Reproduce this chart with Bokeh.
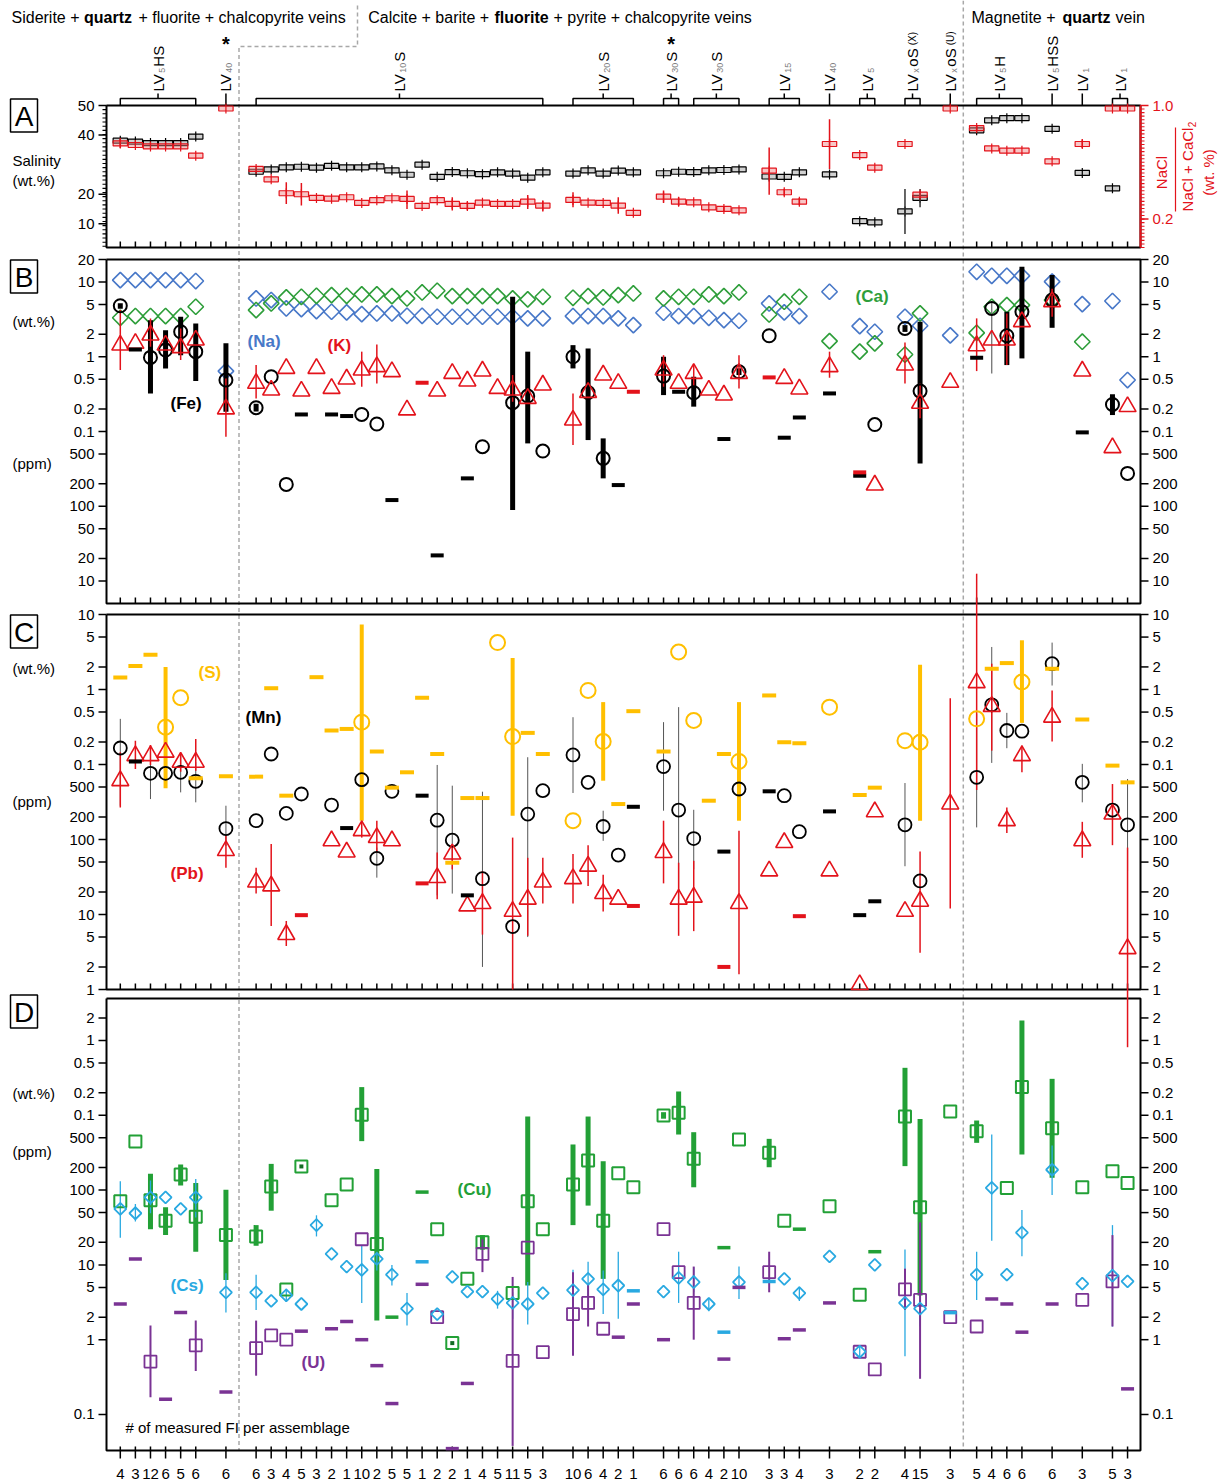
import math
from bokeh.plotting import figure
from bokeh.models import Range1d, LogScale
from bokeh.embed import file_html
from bokeh.resources import INLINE
from bokeh.core.properties import value

W, H = 1222, 1484
FONT = "Liberation Sans"

# ====================== DATA ======================
# assemblage slot codes (0..55: siderite & calcite veins; 100+k: magnetite vein)
codes = [0, 1, 2, 3, 4, 5, 7,
         9, 10, 11, 12, 13, 14, 15, 16, 17, 18, 19, 20, 21, 22, 23, 24, 25, 26, 27, 28,
         30, 31, 32, 33, 34,
         36, 37, 38, 39, 40, 41,
         43, 44, 45, 47, 49, 50, 52, 53, 55,
         100, 101, 102, 103, 105, 107, 109, 110]
fi_counts = [4, 3, 12, 6, 5, 6, 6,
             6, 3, 4, 5, 3, 2, 1, 10, 2, 5, 5, 1, 2, 2, 1, 4, 5, 11, 5, 3,
             10, 6, 4, 2, 1,
             6, 6, 6, 4, 2, 10,
             3, 3, 4, 3, 2, 2, 4, 15, 3,
             5, 4, 6, 6, 6, 3, 5, 3]

# assemblage groups: (subscript, suffix, first code, last code, mark)
groups = [("5", "HS", 0, 5, ""), ("40", "", 7, 7, "*"), ("10", "S", 9, 28, ""),
          ("20", "S", 30, 34, ""), ("30", "S", 36, 37, "*"), ("30", "S", 38, 41, ""),
          ("15", "", 43, 45, ""), ("40", "", 47, 47, ""), ("5", "", 49, 50, ""),
          ("x", "oS", 52, 53, "(X)"), ("x", "oS", 55, 55, "(U)"),
          ("5", "H", 100, 103, ""), ("5", "HSS", 105, 105, ""),
          ("1", "", 107, 107, ""), ("1", "", 109, 110, "")]

# ---- Panel A: salinity (wt.%) and NaCl/(NaCl+CaCl2)
salinity = [38.1, 37.8, 37.3, 37.3, 37.3, 39.5, None,
            27.6, 28.4, 29.1, 29.3, 29.0, 29.6, 29.1, 29.1, 29.4, 28.1, 26.6, 30.0, 25.9, 27.5, 27.1, 26.8, 27.4, 27.0, 25.6, 27.4,
            27.0, 28.1, 27.0, 28.0, 27.4,
            27.1, 27.6, 27.5, 28.1, 28.2, 28.4,
            26.0, 25.9, 27.4, 26.7, 10.9, 10.5, 14.2, 18.8, None,
            41.6, 45.0, 45.7, 45.7, 42.1, 27.2, 22.0, None]
salinity_err = {52: (6.6, 21.8), 53: (15.6, 21.8)}
nacl_ratio = [0.733, 0.722, 0.712, 0.712, 0.712, 0.647, 0.979,
              0.553, 0.480, 0.382, 0.375, 0.349, 0.344, 0.354, 0.314, 0.333, 0.347, 0.342, 0.293, 0.333, 0.307, 0.293, 0.316, 0.307, 0.307, 0.323, 0.295,
              0.335, 0.316, 0.314, 0.295, 0.244,
              0.358, 0.323, 0.318, 0.283, 0.272, 0.262,
              0.541, 0.389, 0.323, 0.729, 0.651, 0.562, 0.729, 0.372, 0.979,
              0.841, 0.698, 0.682, 0.682, 0.607, 0.729, 0.979, 0.979]
nacl_ratio_err = {0: (0.70, 0.77), 11: (0.307, 0.459), 12: (0.295, 0.455), 19: (0.272, 0.401),
                  22: (0.260, 0.353), 23: (0.263, 0.323), 27: (0.272, 0.370), 28: (0.253, 0.330),
                  30: (0.283, 0.389), 33: (0.237, 0.353), 36: (0.314, 0.401), 37: (0.293, 0.353),
                  40: (0.252, 0.292), 43: (0.372, 0.705), 44: (0.364, 0.414), 45: (0.298, 0.348),
                  47: (0.553, 0.904), 100: (0.82, 0.86), 107: (0.70, 0.76)}

# ---- Panel B (ppm): Na, Ca, K, Fe
na = [106000, 106000, 106000, 106000, 106000, 103000, 6430,
      60300, 57300, 44300, 43400, 40800, 40000, 39200, 37200, 38000, 38000, 35300, 35300, 34300, 34300, 34300, 34300, 34300, 34300, 32600, 32600,
      35000, 35000, 35000, 32600, 26500,
      38800, 35000, 35000, 33200, 30900, 30300,
      51700, 39200, 35000, 74000, 25700, 21600, 34300, 26000, 19300,
      137000, 121000, 121000, 121000, 101000, 50600, 55600, 4880]
ca = [33200, 35000, 35000, 35000, 35000, 46700, None,
      42100, 51700, 62200, 63400, 65400, 66800, 65400, 68200, 68200, 64700, 60300, 72500, 76300, 64700, 64700, 64700, 64700, 60300, 58500, 63400,
      61500, 64700, 62200, 66800, 70300,
      60300, 63400, 63400, 68200, 64700, 72500,
      36800, 54500, 63400, 16200, 11700, 15100, 10700, 38000, None,
      20900, 46700, 49100, 49100, 57300, 15900, None, None]
k_ppm = [14300, 15100, 19500, 14300, 13200, 16700, 2000,
         4400, 3580, 6980, 3470, 6980, 3770, 5030, 6630, 7350, 6300, 1940, None, 3470, 5980, 4730, 6430, 3770, 3580, 2770, 4180,
         1420, 3330, 5690, 4400, None,
         6630, 4400, 5980, 3580, 3070, 5980,
         None, 5130, 3700, 7350, None, 192, 7740, 2380, 4540,
         14000, 16700, 16700, 29400, 54500, 6430, 607, 2150]
k_err = {0: (6630, 42100), 2: (13600, 32600), 4: (9040, 23900), 7: (851, 5130), 9: (2770, 7740),
         16: (3970, 11700), 17: (4400, 14600), 26: (2500, 5690), 30: (659, 3230), 36: (3970, 10500),
         38: (3970, 7740), 41: (3770, 10500), 47: (5240, 11700), 52: (4400, 15500), 53: (1500, 4400),
         100: (6430, 32600), 102: (7740, 38000), 105: (34300, 81300)}
k_dash = {20: 4490, 34: 3400, 43: 5290, 49: 284}
fe = [48100, None, 9800, 12300, 21600, 11700, 4880,
      2080, 5400, 196, None, None, None, None, 1690, 1260, None, None, None, None, None, None, 626, None, 2430, 2980, 548,
      10000, 3330, 437, None, None,
      5510, None, 3300, None, None, 6300,
      19100, None, None, None, None, 1240, 23900, 3470, None,
      None, 44300, 19100, 40000, 57300, None, 2300, 275]
fe_err = {0: (44000, 52000), 2: (3230, 30900), 3: (6980, 22700), 4: (10500, 34300), 5: (4730, 27900),
          7: (1840, 15100), 9: (1850, 2350), 26: (89, 63400), 27: (693, 11700), 30: (6980, 14300),
          31: (768, 12900), 32: (236, 809), 36: (3070, 10000), 38: (2150, 5400), 41: (5700, 7000),
          52: (21500, 26500), 53: (374, 29400), 102: (7740, 40000), 103: (9500, 160000),
          105: (24400, 124000), 109: (1660, 3150)}
fe_err_thin = {101: (5980, 54500)}
fe_dash = {1: 12500, 12: 1690, 14: 1690, 15: 1610, 18: 121, 21: 22, 23: 236, 33: 192, 37: 3400,
           40: 793, 44: 826, 45: 1540, 47: 3230, 49: 256, 100: 9700, 107: 973}

# ---- Panel C (ppm): S, Mn, Pb
s_ppm = [None, None, None, 3140, 7760, None, None,
         None, None, None, None, None, None, None, 3670, None, None, None, None, None, None, None, None, 42200, 2360, None, None,
         178, 9720, 2020, None, None,
         None, 31600, 3860, None, None, 1100,
         None, None, None, 5820, None, None, 2080, 1980, None,
         4060, None, None, 12600, None, None, None, None]
s_err = {3: (481, 19900), 16: (178, 73400), 26: (207, 26300), 32: (608, 6790), 41: (178, 6790),
         53: (178, 21400), 103: (3590, 45300)}
s_dash = {0: 14400, 1: 20600, 2: 29100, 5: 655, 7: 695, 9: 689, 10: 10400, 11: 384, 13: 14600,
          14: 2840, 15: 2980, 17: 1490, 18: 491, 19: 787, 20: 7760, 21: 1380, 22: 49, 23: 357,
          24: 357, 27: 2640, 28: 1380, 33: 297, 34: 5140, 36: 1490, 39: 329, 40: 1380, 43: 8330,
          44: 1980, 45: 1920, 49: 392, 50: 491, 101: 18900, 102: 22500, 105: 18900, 107: 3980,
          109: 966, 110: 578}
mn = [1660, None, 762, 762, 787, 597, 140,
      178, 1380, 223, 404, None, 288, None, 628, 56, 439, None, None, 181, 98, None, 30, None, 6.9, 218, 448,
      1340, 578, 149, 62, None,
      937, 247, 103, None, None, 471,
      None, 384, 127, None, None, None, 157, 28, None,
      675, 6250, 2840, 2780, 22100, 578, 247, 157]
mn_err = {0: (282, 4060), 2: (346, 1790), 4: (425, 1380), 5: (313, 1070), 7: (82, 282), 17: (31, 78),
          21: (18, 986), 22: (19, 522), 24: (2.0, 434), 27: (5.0, 1250), 30: (417, 4270), 32: (96, 242),
          36: (242, 3670), 37: (16, 5820), 38: (40, 249), 52: (44, 566), 100: (145, 4740),
          101: (1050, 36900), 102: (1650, 4880), 105: (11300, 42200), 107: (313, 1020), 110: (38, 641)}
mn_dash = {1: 1100, 15: 142, 20: 384, 23: 18, 34: 273, 40: 69, 43: 439, 47: 237, 49: 9.8, 50: 15}
pb = [608, 1310, 1310, 1460, 1070, 1070, 71,
      27, 24, 5.4, None, None, 96, 68, 131, 106, 96, None, None, 31, 64, 13, 14, None, 11, 16, 27,
      30, 44, 19, 16, None,
      67, 16, 17, None, None, 14,
      38, 91, None, 38, 1.16, 234, 11, 15, 297,
      12300, 5940, 178, 1310, 4270, 96, 218, 3.5]
pb_err = {0: (268, 1460), 1: (872, 2080), 2: (986, 1820), 4: (803, 1380), 5: (828, 2190), 7: (42, 112),
          9: (19, 42), 10: (7.0, 87), 11: (3.8, 8.2), 16: (106, 178), 17: (67, 178), 21: (16, 67),
          22: (40, 82), 24: (5.4, 38), 26: (0.5, 106), 27: (5.2, 57), 28: (14, 57), 30: (14, 64),
          31: (24, 84), 32: (11, 34), 36: (26, 178), 37: (5.2, 49), 38: (6.0, 52), 41: (1.6, 131),
          53: (3.1, 69), 55: (12, 7670), 100: (457, 3.5e5), 101: (1530, 22100), 102: (122, 268),
          103: (787, 1790), 105: (2020, 9720), 107: (57, 172), 109: (84, 549), 110: (0.17, 78)}
pb_err_overrun = (100, 110)   # error bars drawn past the panel edge in the original
pb_dash = {12: 9.8, 20: 26, 34: 13, 40: 2.0, 45: 9.5}

# ---- Panel D (ppm): Cu, Cs, U
cu = [71, 446, 73, 39, 161, 44, 25,
      24, 112, 4.7, 207, None, 73, 119, 1020, 19, None, None, None, 30, 0.90, 6.5, 20, None, 4.2, 71, 30,
      119, 248, 39, 168, 109,
      993, 1080, 262, None, None, 474,
      315, 39, None, 61, 4.0, None, 962, 59, 1120,
      613, None, 107, 2380, 672, 109, 179, 124]
cu_solid_center = (12, 22)
cu_err = {2: (30, 165), 3: (25, 59), 4: (115, 220), 5: (15, 124), 7: (6.3, 101), 9: (18, 34),
          10: (53, 224), 16: (451, 2380), 17: (1.8, 192), 24: (16, 25), 27: (5.3, 962), 30: (34, 407),
          31: (62, 962), 32: (6.5, 243), 36: (900, 1100), 37: (553, 2080), 38: (109, 594),
          43: (202, 484), 52: (209, 4310), 53: (3.9, 895), 100: (428, 851), 103: (299, 18500),
          105: (146, 3070)}
cu_dash = {18: 2.0, 20: 94, 40: 17, 45: 30, 50: 15}
cs = [56, 49, 80, 80, 56, 80, 4.3,
      4.3, 3.3, 3.9, 3.0, 34, 14, 9.5, 8.6, 12, 7.4, 2.6, None, 2.2, 6.9, 4.4, 4.4, 3.5, 3.1, 3.0, 4.2,
      4.6, 6.5, 4.7, 5.3, None,
      4.4, 6.7, 5.9, 3.0, None, 5.9,
      None, 6.5, 4.2, 13, 0.69, 10, 3.1, 2.6, None,
      7.4, 107, 7.4, 27, 187, 5.6, 7.2, 6.0]
cs_err = {0: (23, 131), 1: (38, 65), 2: (49, 134), 5: (43, 141), 7: (2.3, 7.7), 9: (2.5, 7.4),
          11: (3.2, 4.8), 13: (24, 46), 16: (3.1, 18), 17: (8.4, 15), 18: (5.3, 10), 19: (1.55, 4.2),
          25: (2.6, 4.5), 26: (1.9, 4.3), 27: (1.6, 5.9), 30: (2.5, 8.6), 31: (3.7, 11), 32: (2.2, 8.4),
          33: (1.9, 15), 37: (3.1, 15), 38: (4.3, 9.3), 39: (2.4, 3.5), 41: (3.5, 9.5), 45: (3.3, 5.1),
          49: (0.60, 0.85), 52: (0.60, 16), 53: (1.5, 4.5), 100: (3.4, 15), 101: (21, 553),
          103: (13, 54), 105: (86, 394), 109: (1.5, 34)}
cs_dash = {20: 11, 34: 4.5, 40: 1.26, 43: 6.0, 55: 2.3}
u_ppm = [None, None, 0.51, None, None, 0.84, None,
         0.77, 1.14, 1.0, None, None, None, None, 22, None, None, None, None, 2.0, None, None, 14, None, 0.52, 17, 0.68,
         2.2, 3.1, 1.4, None, None,
         30, 8.0, 3.1, None, None, None,
         8.0, None, None, None, 0.69, 0.40, 4.7, 3.4, 2.0,
         1.5, None, None, None, None, 3.4, 6.0, None]
u_err = {2: (0.17, 1.55), 5: (0.38, 1.8), 9: (0.33, 1.8), 24: (8.0, 22), 26: (0.038, 6.9),
         30: (0.61, 8.0), 31: (1.5, 5.6), 38: (1.0, 9.5), 43: (4.3, 15), 52: (2.5, 8.9),
         53: (0.30, 37), 109: (1.5, 25)}
u_dash = {0: 3.0, 1: 12, 3: 0.16, 4: 2.3, 7: 0.20, 12: 1.3, 14: 1.4, 15: 1.75, 16: 1.0, 17: 0.45,
          18: 0.14, 20: 5.5, 22: 0.035, 23: 0.26, 33: 1.08, 34: 3.0, 36: 1.0, 40: 0.55, 41: 5.0,
          44: 1.03, 45: 1.35, 47: 3.1, 101: 3.5, 102: 3.0, 103: 1.26, 105: 3.0, 110: 0.22}

# axis ticks
SAL_TICKS = [10, 20, 40, 50]
RATIO_TICKS = [0.2, 1.0]
LOG_TICKS_B = [2e5, 1e5, 5e4, 2e4, 1e4, 5e3, 2e3, 1e3, 500, 200, 100, 50, 20, 10]
LOG_TICKS_C = [1e5, 5e4, 2e4, 1e4, 5e3, 2e3, 1e3, 500, 200, 100, 50, 20, 10, 5, 2, 1]
LOG_TICKS_D = [2e4, 1e4, 5e3, 2e3, 1e3, 500, 200, 100, 50, 20, 10, 5, 2, 1, 0.1]

# ====================== LAYOUT HELPERS ======================
SLOT0, SLOT_W, R_OFF = 119.8, 15.09, 56.75
FRAME_L, FRAME_R = 106, 1140


def xpos(c):
    return c if c < 100 else R_OFF + (c - 100)


def px2x(px):
    return (px - SLOT0) / SLOT_W


def Y(py):           # page pixel (from top) -> page coordinate (default y range)
    return H - py


X = [xpos(c) for c in codes]
ALL_TICKS = [s for s in range(56) if s != 8] + [R_OFF + k for k in range(11)]

gA = dict(top=105, bot=247, lo=2.0, hi=50.0, log=False)
gR = dict(top=105, bot=247, lo=0.0, hi=1.0, log=False)
gB = dict(top=259, bot=603, lo=5.0, hi=2.0e5, log=True)
gC = dict(top=614, bot=989, lo=1.0, hi=1.0e5, log=True)
gD = dict(top=998, bot=1450, lo=0.033, hi=3.64e4, log=True)


def py2y(g, py):
    f = (py - g["top"]) / (g["bot"] - g["top"])
    if g["log"]:
        a, b = math.log10(g["hi"]), math.log10(g["lo"])
        return 10 ** (a + f * (b - a))
    return g["hi"] + f * (g["lo"] - g["hi"])


def full_range(g):
    return Range1d(py2y(g, H), py2y(g, 0))


p = figure(width=W, height=H, x_range=Range1d(px2x(0), px2x(W)), y_range=Range1d(0, H),
           extra_y_ranges={"A": full_range(gA), "ratio": full_range(gR), "B": full_range(gB),
                           "C": full_range(gC), "D": full_range(gD)},
           extra_y_scales={"B": LogScale(), "C": LogScale(), "D": LogScale()},
           min_border=0, x_axis_location=None, y_axis_location=None,
           toolbar_location=None, output_backend="svg")
p.grid.visible = False
p.outline_line_color = None
p.background_fill_color = "white"


def series(vals, only=None):
    xs, ys = [], []
    for c, x, v in zip(codes, X, vals):
        if v is not None and (only is None or c in only):
            xs.append(x)
            ys.append(v)
    return xs, ys


def seg(d, rn, g, color, width, keep=()):
    xs, lo, hi = [], [], []
    for c, (a, b) in d.items():
        xs.append(xpos(c))
        lo.append(a if c in keep else max(a, g["lo"]))
        hi.append(b if c in keep else min(b, g["hi"]))
    p.segment(x0=xs, y0=lo, x1=xs, y1=hi, line_color=color, line_width=width, y_range_name=rn)


def mark(vals, rn, marker, color, size, lw=1.6, angle=0.0):
    xs, ys = series(vals)
    p.scatter(xs, ys, marker=marker, size=size, angle=angle, fill_color=None,
              line_color=color, line_width=lw, y_range_name=rn)


def dash(d, rn, color, w=13, h=4):
    xs = [xpos(c) for c in d]
    ys = [d[c] for c in d]
    p.rect(x=xs, y=ys, width=w, height=h, width_units="screen", height_units="screen",
           fill_color=color, line_color=None, y_range_name=rn)


def txt(pxs, pys, texts, size="15px", color="black", style="normal", align="left",
        baseline="middle", angle=0.0, font=FONT):
    p.text(x=[px2x(v) for v in pxs], y=[Y(v) for v in pys], text=texts, angle=angle,
           text_font=value(font), text_font_size=size, text_color=color,
           text_font_style=style, text_align=align, text_baseline=baseline)


def yaxis(rn, ticks, labels, side, color="black", minor=()):
    if side == "left":
        e, t, m, l, al = FRAME_L, FRAME_L - 8, FRAME_L - 4, FRAME_L - 12, "right"
    else:
        e, t, m, l, al = FRAME_R, FRAME_R + 8, FRAME_R + 4, FRAME_R + 12, "left"
    n = len(ticks)
    p.segment(x0=[px2x(e)] * n, x1=[px2x(t)] * n, y0=ticks, y1=ticks, y_range_name=rn,
              line_color=color, line_width=1.5)
    if minor:
        k = len(minor)
        p.segment(x0=[px2x(e)] * k, x1=[px2x(m)] * k, y0=list(minor), y1=list(minor),
                  y_range_name=rn, line_color=color, line_width=1.1)
    p.text(x=[px2x(l)] * n, y=ticks, text=labels, y_range_name=rn, text_align=al,
           text_baseline="middle", text_font=value(FONT), text_font_size="15px", text_color=color)


def ppm_label(t):
    return "%g" % (t / 1e4 if t >= 1000 else t)


NA_C, CA_C, RED = "#4878c8", "#2e9e3a", "#e3131b"
S_C, CU_C, CS_C, U_C = "#ffbf00", "#22a036", "#29a9e1", "#7a3394"

# ====================== GUIDES (dashed separators) ======================
p.multi_line(xs=[[px2x(357), px2x(357), px2x(238.5), px2x(238.5)], [px2x(962.8), px2x(962.8)]],
             ys=[[Y(5), Y(46), Y(46), Y(1450)], [Y(0), Y(1450)]],
             line_color="#a8a8a8", line_dash="4 3", line_width=1.5)

# ====================== HEADER ======================
vein_text = [(11, "Siderite +", "normal"), (83.5, "quartz", "bold"),
             (138, "+ fluorite + chalcopyrite veins", "normal"),
             (367.7, "Calcite + barite +", "normal"), (494, "fluorite", "bold"),
             (553, "+ pyrite + chalcopyrite veins", "normal"),
             (971, "Magnetite +", "normal"), (1062, "quartz", "bold"), (1115, "vein", "normal")]
for style in ("normal", "bold"):
    sel = [t for t in vein_text if t[2] == style]
    txt([t[0] for t in sel], [17] * len(sel), [t[1] for t in sel], size="16px", style=style)

A15 = {"L": 8.34, "V": 10.0, "H": 10.83, "S": 10.0, "o": 8.34}
bx, by = [], []
main_t, sub_t, small_t, star_t = [], [], [], []
for sub, rest, a, b, extra in groups:
    xa, xb = xpos(a), xpos(b)
    xc = (xa + xb) / 2
    if a != b:
        bx += [[xa, xa, xb, xb], [xc, xc]]
        by += [[Y(105), Y(98), Y(98), Y(105)], [Y(98), Y(93)]]
    else:
        bx.append([xa, xa])
        by.append([Y(105), Y(93)])
    y0 = 91
    main_t.append((xc, Y(y0), "LV"))
    y1 = y0 - 18.3 - 0.5
    sub_t.append((xc + 3.5 / SLOT_W, Y(y1), sub))
    y2 = y1 - 5.0 * len(sub) - 1
    if rest:
        main_t.append((xc, Y(y2), rest))
    y3 = y2 - sum(A15[ch] for ch in rest) - 3
    if extra == "*":
        star_t.append((xc, Y(43), "*"))
    elif extra:
        small_t.append((xc, Y(y3), extra))

p.multi_line(xs=bx, ys=by, line_color="black", line_width=1.5)
for lst, size, col in ((main_t, "15px", "black"), (sub_t, "9px", "#808080"), (small_t, "10px", "black")):
    p.text(x=[t[0] for t in lst], y=[t[1] for t in lst], text=[t[2] for t in lst],
           angle=math.pi / 2, text_font=value(FONT), text_font_size=size, text_color=col,
           text_align="left", text_baseline="middle")
p.text(x=[t[0] for t in star_t], y=[t[1] for t in star_t], text=[t[2] for t in star_t],
       text_font=value(FONT), text_font_size="20px", text_font_style="bold",
       text_align="center", text_baseline="middle", text_color="black")

# ====================== PANEL FRAMES & AXES ======================
for g in (gA, gB, gC, gD):
    p.multi_line(xs=[[px2x(FRAME_L), px2x(FRAME_R), px2x(FRAME_R), px2x(FRAME_L), px2x(FRAME_L)]],
                 ys=[[Y(g["top"]), Y(g["top"]), Y(g["bot"]), Y(g["bot"]), Y(g["top"])]],
                 line_color="black", line_width=2)
for g in (gA, gB, gC):
    n = len(ALL_TICKS)
    p.segment(x0=ALL_TICKS, x1=ALL_TICKS, y0=[Y(g["bot"])] * n, y1=[Y(g["bot"] - 6)] * n,
              line_color="black", line_width=1.5)
# panel D bottom ticks + FI counts
p.segment(x0=X, x1=X, y0=[Y(gD["bot"] + 8)] * len(X), y1=[Y(gD["bot"] - 4)] * len(X),
          line_color="black", line_width=1.5)
p.text(x=X, y=[Y(gD["bot"] + 23)] * len(X), text=[str(c) for c in fi_counts],
       text_font=value(FONT), text_font_size="15px", text_align="center", text_baseline="middle")

# panel A axes
p.segment(x0=[px2x(FRAME_R)], x1=[px2x(FRAME_R)], y0=[Y(gA["top"])], y1=[Y(gA["bot"])],
          line_color=RED, line_width=2)
yaxis("A", SAL_TICKS, [str(t) for t in SAL_TICKS], "left", minor=[50 - 1.4 * i for i in range(35)])
yaxis("ratio", RATIO_TICKS, ["%.1f" % t for t in RATIO_TICKS], "right", color=RED,
      minor=[0.025 * i for i in range(41)])
for rn, ticks in (("B", LOG_TICKS_B), ("C", LOG_TICKS_C), ("D", LOG_TICKS_D)):
    yaxis(rn, ticks, [ppm_label(t) for t in ticks], "left")
    yaxis(rn, ticks, [ppm_label(t) for t in ticks], "right")

# side labels
txt([12, 12], [160, 180], ["Salinity", "(wt.%)"])
txt([12] * 6, [321, 463, 668, 801, 1093, 1151], ["(wt.%)", "(ppm)"] * 3)
box_y = [115, 276, 631, 1011]
p.rect(x=[px2x(23.5)] * 4, y=[Y(v) for v in box_y], width=27, height=33, width_units="screen",
       height_units="screen", fill_color=None, line_color="black", line_width=1.5)
txt([23.5] * 4, [v + 1 for v in box_y], ["A", "B", "C", "D"], size="28px", align="center")
# right label of panel A: NaCl / (NaCl + CaCl2)
txt([1161], [172], ["NaCl"], color=RED, align="center", angle=math.pi / 2)
p.segment(x0=[px2x(1175)], x1=[px2x(1175)], y0=[Y(127)], y1=[Y(211)], line_color=RED, line_width=1.2)
txt([1187], [169], ["NaCl + CaCl"], color=RED, align="center", angle=math.pi / 2)
txt([1191], [124], ["2"], color=RED, align="center", angle=math.pi / 2, size="10px")
txt([1208], [172], ["(wt. %)"], color=RED, align="center", angle=math.pi / 2)

# ====================== PANEL A DATA ======================
xs, ys = series(salinity)
p.rect(x=xs, y=ys, width=0.95, height=5, height_units="screen", fill_color="#9a9a9a",
       fill_alpha=0.45, line_color="black", line_width=1.2, y_range_name="A")
p.scatter(xs, ys, marker="dash", angle=math.pi / 2, size=10, line_color="black", line_width=1.2,
          y_range_name="A")
seg(salinity_err, "A", gA, "#333333", 1.5)
xs, ys = series(nacl_ratio)
p.rect(x=xs, y=ys, width=0.95, height=5, height_units="screen", fill_color="#f08080",
       fill_alpha=0.45, line_color=RED, line_width=1.2, y_range_name="ratio")
p.scatter(xs, ys, marker="dash", angle=math.pi / 2, size=10, line_color=RED, line_width=1.2,
          y_range_name="ratio")
seg(nacl_ratio_err, "ratio", gR, RED, 1.5)

# ====================== PANEL B DATA ======================
mark(na, "B", "square", NA_C, 11, lw=1.6, angle=math.pi / 4)
mark(ca, "B", "square", CA_C, 11, lw=1.6, angle=math.pi / 4)
seg(fe_err, "B", gB, "black", 5)
seg(fe_err_thin, "B", gB, "#666666", 1.2)
seg(k_err, "B", gB, RED, 1.5)
mark(fe, "B", "circle", "black", 13, lw=2)
mark(k_ppm, "B", "triangle", RED, 17, lw=1.6)
dash(fe_dash, "B", "black")
dash(k_dash, "B", RED)
txt([170], [403], ["(Fe)"], size="17px", style="bold")
txt([247], [341], ["(Na)"], size="17px", style="bold", color=NA_C)
txt([327], [345], ["(K)"], size="17px", style="bold", color=RED)
txt([855], [296], ["(Ca)"], size="17px", style="bold", color=CA_C)

# ====================== PANEL C DATA ======================
seg(s_err, "C", gC, S_C, 4)
seg(mn_err, "C", gC, "#555555", 1)
seg(pb_err, "C", gC, RED, 1.5, keep=pb_err_overrun)
mark(s_ppm, "C", "circle", S_C, 15, lw=2)
mark(mn, "C", "circle", "black", 13, lw=1.8)
mark(pb, "C", "triangle", RED, 17, lw=1.6)
dash(s_dash, "C", S_C, w=14)
dash(mn_dash, "C", "black")
dash(pb_dash, "C", RED)
txt([198], [672], ["(S)"], size="17px", style="bold", color=S_C)
txt([245], [717], ["(Mn)"], size="17px", style="bold")
txt([170], [873], ["(Pb)"], size="17px", style="bold", color=RED)

# ====================== PANEL D DATA ======================
seg(cu_err, "D", gD, CU_C, 5)
seg(cs_err, "D", gD, CS_C, 1.3)
seg(u_err, "D", gD, U_C, 2)
mark(cu, "D", "square", CU_C, 12, lw=2)
xs, ys = series(cu, only=cu_solid_center)
p.scatter(xs, ys, marker="square", size=4, fill_color="#136b24", line_color=None, y_range_name="D")
mark(u_ppm, "D", "square", U_C, 12, lw=1.8)
mark(cs, "D", "square", CS_C, 8.5, lw=1.8, angle=math.pi / 4)
dash(cu_dash, "D", CU_C, h=3.5)
dash(cs_dash, "D", CS_C, h=3.5)
dash(u_dash, "D", U_C, h=3.5)
txt([457], [1189], ["(Cu)"], size="17px", style="bold", color=CU_C)
txt([170], [1285], ["(Cs)"], size="17px", style="bold", color=CS_C)
txt([301], [1362], ["(U)"], size="17px", style="bold", color=U_C)
txt([125], [1427], ["# of measured FI per assemblage"])

open("out.html", "w").write(file_html(p, INLINE))
